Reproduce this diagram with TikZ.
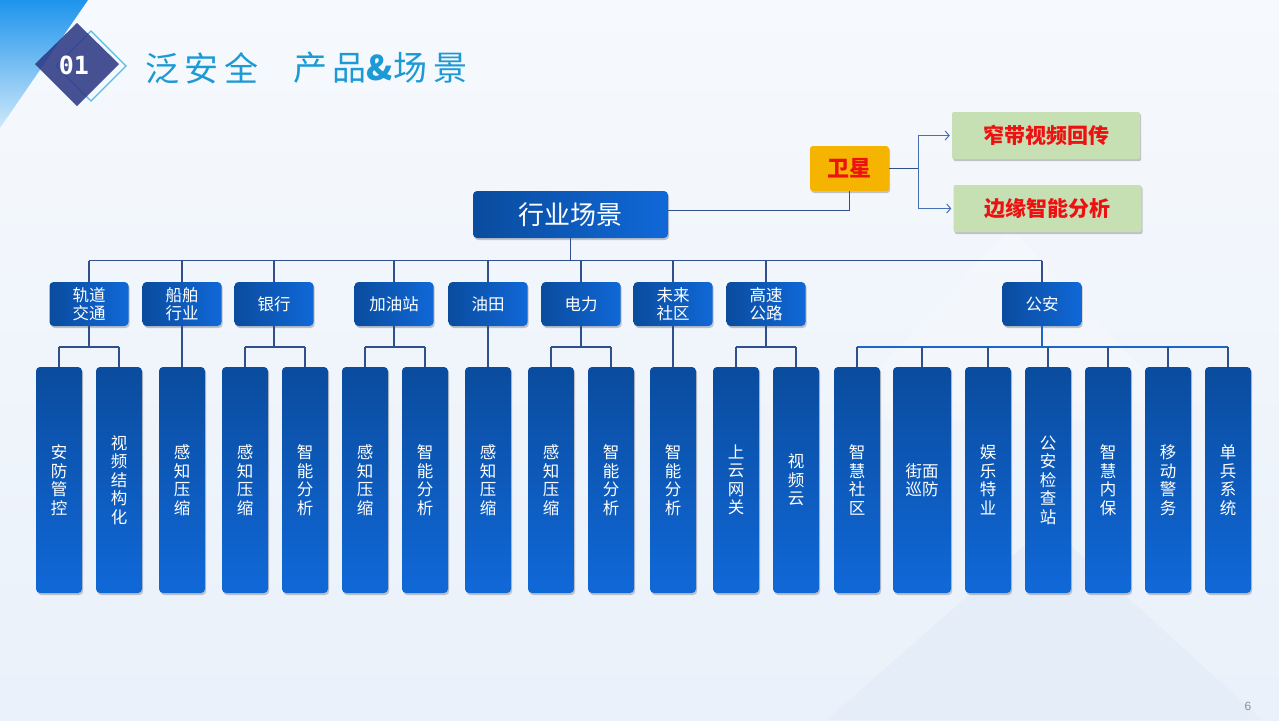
\documentclass[tikz,border=0pt]{standalone}
\usepackage{fontspec}
\setmainfont{Noto Sans CJK SC}
\newfontfamily\cjk{Noto Sans CJK SC}
\newfontfamily\monob{DejaVu Sans Mono}
\newfontfamily\latinsans{Liberation Sans}
\usetikzlibrary{shadows,arrows.meta,calc}
\definecolor{bgtop}{HTML}{F6F9FD}
\definecolor{bgbot}{HTML}{EAF1FA}
\definecolor{triA}{HTML}{E4ECF8}
\definecolor{cornA}{HTML}{1E94EC}
\definecolor{cornB}{HTML}{CDE8FA}
\definecolor{navy}{HTML}{2E3A86}
\definecolor{ltblue}{HTML}{58BCE8}
\definecolor{titleblue}{HTML}{1C9AD6}
\definecolor{boxA}{HTML}{0A4C9E}
\definecolor{boxB}{HTML}{1068D8}
\definecolor{linec}{HTML}{2F4F8E}
\definecolor{busblue}{HTML}{1E66C6}
\definecolor{satfill}{HTML}{F4B400}
\definecolor{greenfill}{HTML}{C6E0B4}
\definecolor{redtxt}{HTML}{EE1111}
\definecolor{arrowc}{HTML}{4670B4}
\definecolor{pagegray}{HTML}{8A8F98}
\begin{document}
\begin{tikzpicture}[x=1pt,y=-1pt,
  shad/.style={drop shadow={shadow xshift=1.2pt,shadow yshift=-2pt,opacity=0.3,fill=black!70}},
  rootbox/.style={rounded corners=4pt,minimum width=195pt,minimum height=47pt,inner sep=0pt,
    left color=boxA,right color=boxB,text=white,font=\fontsize{26}{28}\selectfont,shad},
  lvtwo/.style={rounded corners=4pt,minimum width=79pt,minimum height=44pt,inner sep=0pt,
    left color=boxA,right color=boxB,text=white,align=center,font=\fontsize{16.5}{18}\selectfont,shad},
  leaf/.style={rounded corners=4pt,minimum width=46pt,minimum height=226pt,inner sep=0pt,
    top color=boxA,bottom color=boxB,text=white,align=center,font=\fontsize{16.5}{18.5}\selectfont,shad},
  widleaf/.style={leaf,minimum width=58pt},
  satbox/.style={rounded corners=3pt,minimum width=79pt,minimum height=45pt,inner sep=0pt,
    fill=satfill,text=redtxt,font=\fontsize{22}{24}\selectfont\bfseries,shad},
  greenbox/.style={rounded corners=2pt,minimum width=188pt,minimum height=47pt,inner sep=0pt,
    fill=greenfill,text=redtxt,font=\fontsize{21}{23}\selectfont\bfseries,shad},
  conn/.style={draw=linec,line width=1.1pt},
  busconn/.style={draw=busblue,line width=1.8pt},
  arr/.style={draw=arrowc,line width=1pt,-{Straight Barb[length=4pt,width=9pt]}}
]
% background
\useasboundingbox (0,0) rectangle (1279,720);
\shade[top color=bgtop,bottom color=bgbot] (0,0) rectangle (1279,720);
\fill[triA,opacity=0.8] (1048,525) -- (827,720) -- (1262,720) -- cycle;
\fill[white,opacity=0.2] (1010,228) -- (830,420) -- (1190,420) -- cycle;
% top-left corner
\shade[top color=cornA,bottom color=cornB] (0,0) -- (88,0) -- (0,128) -- cycle;
% title diamonds
\draw[ltblue,line width=1.2pt] (91,31) -- (126,66) -- (91,101) -- (56,66) -- cycle;
\fill[navy,opacity=0.88] (77,23) -- (119,64) -- (77,106) -- (35,64) -- cycle;
\node[text=white,font=\monob\bfseries\fontsize{25}{27}\selectfont] (num) at (74,65) {01};
\node[anchor=west,inner sep=0pt,text=titleblue,font=\addfontfeatures{LetterSpace=17}\fontsize{34}{36}\selectfont] (t1) at (145,68) {泛安全};
\node[anchor=west,inner sep=0pt,text=titleblue,font=\addfontfeatures{LetterSpace=17}\fontsize{34}{36}\selectfont] (t2) at (293,68) {产品{\bfseries\&}场景};
% root and satellite
\node[rootbox] (root) at (570.5,214.5) {行业场景};
\node[satbox] (sat) at (849.5,168.5) {卫星};
\node[greenbox] (g1) at (1046,135.5) {窄带视频回传};
\node[greenbox] (g2) at (1047.5,208.5) {边缘智能分析};
\coordinate (fork) at (918,0);
\draw[conn] ([yshift=4pt]root.east) -| (sat.south);
\draw[conn] (sat.east) -- (sat.east -| fork);
\draw[arr] (sat.east -| fork) |- ([xshift=-2pt]g1.west);
\draw[arr] (sat.east -| fork) |- ([xshift=-2pt]g2.west);
% level two
\node[lvtwo] (n1) at (89,304) {轨道\\交通};
\node[lvtwo] (n2) at (182,304) {船舶\\行业};
\node[lvtwo] (n3) at (274,304) {银行};
\node[lvtwo] (n4) at (394,304) {加油站};
\node[lvtwo] (n5) at (488,304) {油田};
\node[lvtwo] (n6) at (581,304) {电力};
\node[lvtwo] (n7) at (673,304) {未来\\社区};
\node[lvtwo] (n8) at (766,304) {高速\\公路};
\node[lvtwo] (n9) at (1042,304) {公安};
% leaves
\node[leaf] (a1) at (59,480) {安\\防\\管\\控};
\node[leaf] (a2) at (119,480) {视\\频\\结\\构\\化};
\node[leaf] (b1) at (182,480) {感\\知\\压\\缩};
\node[leaf] (c1) at (245,480) {感\\知\\压\\缩};
\node[leaf] (c2) at (305,480) {智\\能\\分\\析};
\node[leaf] (d1) at (365,480) {感\\知\\压\\缩};
\node[leaf] (d2) at (425,480) {智\\能\\分\\析};
\node[leaf] (e1) at (488,480) {感\\知\\压\\缩};
\node[leaf] (f1) at (551,480) {感\\知\\压\\缩};
\node[leaf] (f2) at (611,480) {智\\能\\分\\析};
\node[leaf] (h1) at (673,480) {智\\能\\分\\析};
\node[leaf] (k1) at (736,480) {上\\云\\网\\关};
\node[leaf] (k2) at (796,480) {视\\频\\云};
\node[leaf] (p1) at (857,480) {智\\慧\\社\\区};
\node[widleaf] (p2) at (922,480) {街面\\巡防};
\node[leaf] (p3) at (988,480) {娱\\乐\\特\\业};
\node[leaf] (p4) at (1048,480) {公\\安\\检\\查\\站};
\node[leaf] (p5) at (1108,480) {智\\慧\\内\\保};
\node[leaf] (p6) at (1168,480) {移\\动\\警\\务};
\node[leaf] (p7) at (1228,480) {单\\兵\\系\\统};
% level-one bus
\coordinate (bY) at (0,260.5);
\coordinate (sY) at (0,347);
\draw[conn] (root.south) -- (root.south |- bY);
\draw[conn] (n1.north |- bY) -- (n9.north |- bY);
\foreach \n in {n1,n2,n3,n4,n5,n6,n7,n8,n9}
  \draw[conn] (\n.north |- bY) -- (\n.north);
% sub buses
\foreach \p/\l/\r in {n1/a1/a2,n3/c1/c2,n4/d1/d2,n6/f1/f2,n8/k1/k2}{
  \draw[conn] (\p.south) -- (\p.south |- sY);
  \draw[conn] (\l.north |- sY) -- (\r.north |- sY);
  \draw[conn] (\l.north |- sY) -- (\l.north);
  \draw[conn] (\r.north |- sY) -- (\r.north);
}
\draw[conn] (n2.south) -- (b1.north);
\draw[conn] (n5.south) -- (e1.north);
\draw[conn] (n7.south) -- (h1.north);
\draw[busconn] (n9.south) -- (n9.south |- sY);
\draw[busconn] (p1.north |- sY) -- (p7.north |- sY);
\foreach \q in {p1,p2,p3,p4,p5,p6,p7}
  \draw[conn] (\q.north |- sY) -- (\q.north);
% page number
\node[text=pagegray,font=\latinsans\fontsize{12}{14}\selectfont] (pg) at (1248,706) {6};
\end{tikzpicture}
\end{document}
